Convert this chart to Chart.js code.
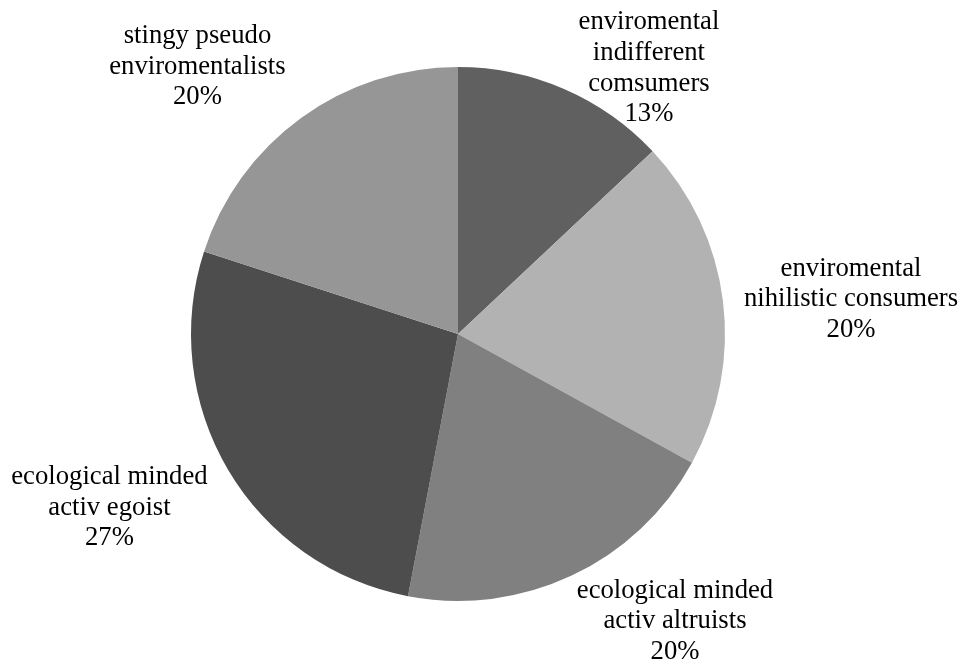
<!DOCTYPE html>
<html>
<head>
<meta charset="utf-8">
<script src="https://cdn.jsdelivr.net/npm/chart.js@4"></script>
<style>
  html, body { margin: 0; padding: 0; background: #fff; }
</style>
</head>
<body>
<canvas id="pieChart" width="961" height="668"></canvas>
<script>
const categories = [
  ['enviromental', 'indifferent', 'comsumers'],
  ['enviromental', 'nihilistic consumers'],
  ['ecological minded', 'activ altruists'],
  ['ecological minded', 'activ egoist'],
  ['stingy pseudo', 'enviromentalists']
];
const shares = [13, 20, 20, 27, 20];
const sliceColors = ['#606060', '#b2b2b2', '#808080', '#4d4d4d', '#969696'];

// small hand nudges so labels sit where the original put them
const labelNudge = [[49, 54], [2, 7], [53, -14], [-17, 4], [-40, 2]];

const outsideLabels = {
  id: 'outsideLabels',
  afterDatasetsDraw(chart) {
    const ctx = chart.ctx;
    const meta = chart.getDatasetMeta(0);
    const total = shares.reduce((a, b) => a + b, 0);
    const fontSize = 26.7;
    const lineH = 30.7;
    ctx.save();
    ctx.font = fontSize + 'px "Liberation Serif", "Times New Roman", serif';
    ctx.fillStyle = '#000';
    ctx.textAlign = 'center';
    ctx.textBaseline = 'middle';
    meta.data.forEach((arc, i) => {
      const p = arc.getProps(['x', 'y', 'startAngle', 'endAngle', 'outerRadius'], true);
      const mid = (p.startAngle + p.endAngle) / 2;
      const dx = Math.cos(mid), dy = Math.sin(mid);
      const lines = categories[i].concat([Math.round(shares[i] / total * 100) + '%']);
      const w = Math.max(...lines.map(l => ctx.measureText(l).width));
      const h = lines.length * lineH;
      const ax = p.x + dx * (p.outerRadius + 20);
      const ay = p.y + dy * (p.outerRadius + 20);
      const cx = ax + dx * w / 2 + labelNudge[i][0];
      const cy = ay + dy * h / 2 + labelNudge[i][1];
      lines.forEach((l, j) => {
        ctx.fillText(l, cx, cy + (j - (lines.length - 1) / 2) * lineH);
      });
    });
    ctx.restore();
  }
};

new Chart(document.getElementById('pieChart').getContext('2d'), {
  type: 'pie',
  data: {
    labels: categories,
    datasets: [{
      data: shares,
      backgroundColor: sliceColors,
      borderWidth: 0
    }]
  },
  options: {
    responsive: false,
    animation: false,
    layout: { padding: { top: 67, bottom: 67, left: 100, right: 145 } },
    plugins: {
      legend: { display: false },
      tooltip: { enabled: false }
    }
  },
  plugins: [outsideLabels]
});
</script>
</body>
</html>
